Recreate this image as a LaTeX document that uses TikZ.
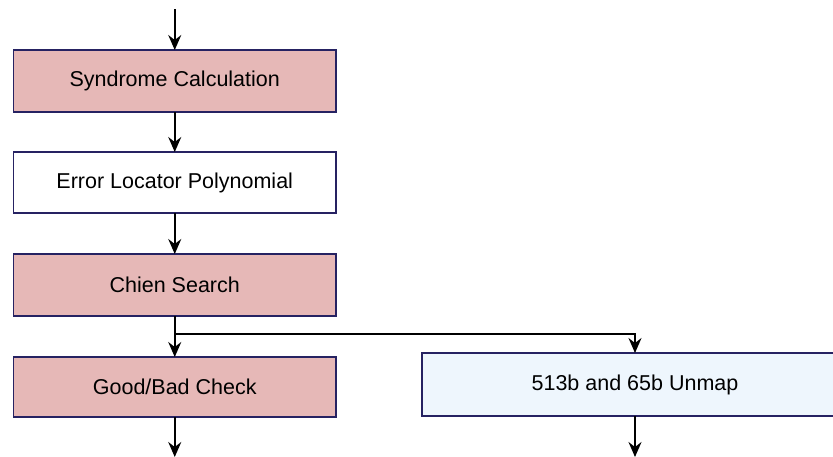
\documentclass[tikz,border=0pt]{standalone}
\usepackage{fontspec}
\setmainfont{Liberation Sans}
\usetikzlibrary{arrows.meta,shadows}
\definecolor{pinkfill}{HTML}{E6B8B7}
\definecolor{bluefill}{HTML}{EEF6FD}
\definecolor{navy}{HTML}{262262}
\definecolor{shade}{HTML}{8C8AB8}
\begin{document}
\begin{tikzpicture}[x=1pt,y=-1pt,
  blk/.style={draw=navy, line width=1.8pt, inner sep=0pt, outer sep=0pt,
    font=\fontsize{21.5}{25}\selectfont,
    drop shadow={shadow xshift=1.2pt, shadow yshift=-1.2pt, fill=shade, opacity=0.6}},
  pinkbox/.style={blk, fill=pinkfill},
  whitebox/.style={blk, fill=white},
  bluebox/.style={blk, fill=bluefill},
  arr/.style={draw=black, line width=1.5pt, -{Stealth[length=15pt,width=13pt,inset=5pt]}}]
\useasboundingbox (0,0) rectangle (833,456);
\clip (0,0) rectangle (833,456);
\node[pinkbox, minimum width=322.5pt, minimum height=62pt] (b1) at (174.75,81) {Syndrome Calculation};
\node[whitebox, minimum width=322.5pt, minimum height=61pt] (b2) at (174.75,182.5) {Error Locator Polynomial};
\node[pinkbox, minimum width=322.5pt, minimum height=62pt] (b3) at (174.75,285) {Chien Search};
\node[pinkbox, minimum width=322.5pt, minimum height=60pt] (b4) at (174.75,387) {Good/Bad Check};
\node[bluebox, minimum width=426pt, minimum height=63pt] (b5) at (635,384.5) {513b and 65b Unmap};
\coordinate (in) at (174.75,9);
\coordinate (split) at (174.75,334);
\coordinate (out1) at (174.75,457);
\coordinate (out2) at (635,457);
\draw[arr] (in) -- (b1);
\draw[arr] (b1) -- (b2);
\draw[arr] (b2) -- (b3);
\draw[arr] (b3) -- (b4);
\draw[arr] (split) -| (b5.north);
\draw[arr] (b4) -- (out1);
\draw[arr] (b5) -- (out2);
\end{tikzpicture}
\end{document}
